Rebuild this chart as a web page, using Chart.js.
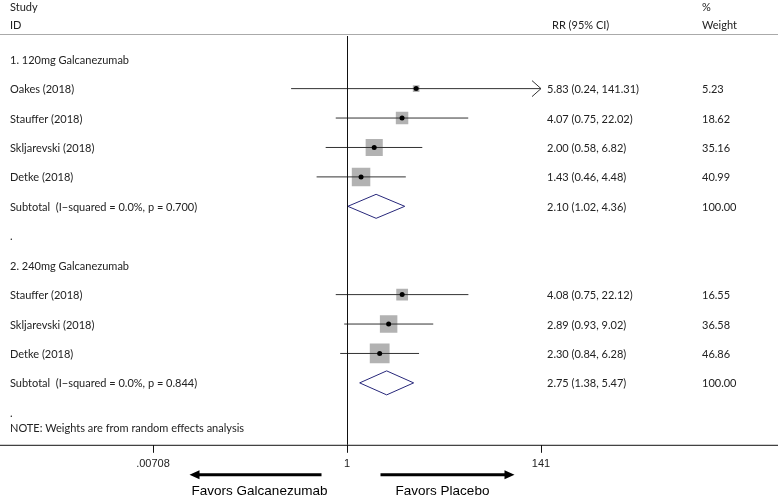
<!DOCTYPE html>
<html lang="en">
<head>
    <meta charset="UTF-8">
    <title>Forest plot</title>
    <script src="https://cdn.jsdelivr.net/npm/chart.js"></script>
    <style>
        body { margin: 0; background: #fff; }
    </style>
</head>
<body>
<canvas id="myChart" width="778" height="501"></canvas>
<script>
    // rows top to bottom
    const rowLabels = [
        '1. 120mg Galcanezumab', 'Oakes (2018)', 'Stauffer (2018)', 'Skljarevski (2018)', 'Detke (2018)',
        'Subtotal  (I\u2212squared = 0.0%, p = 0.700)', '.',
        '2. 240mg Galcanezumab', 'Stauffer (2018)', 'Skljarevski (2018)', 'Detke (2018)',
        'Subtotal  (I\u2212squared = 0.0%, p = 0.844)', '.'
    ];
    const rr      = [null, 5.83, 4.07, 2.00, 1.43, 2.10, null, null, 4.08, 2.89, 2.30, 2.75, null];
    const ciLow   = [null, 0.24, 0.75, 0.58, 0.46, 1.02, null, null, 0.75, 0.93, 0.84, 1.38, null];
    const ciHigh  = [null, 141.31, 22.02, 6.82, 4.48, 4.36, null, null, 22.12, 9.02, 6.28, 5.47, null];
    const weights = [null, 5.23, 18.62, 35.16, 40.99, 100.00, null, null, 16.55, 36.58, 46.86, 100.00, null];
    const isSubtotal = [false, false, false, false, false, true, false, false, false, false, false, true, false];
    const xTicks = [0.00708, 1, 141];
    const xTickLabels = ['.00708', '1', '141'];
    const noteText = 'NOTE: Weights are from random effects analysis';

    const tableFont = '11px Lato';

    let boxes = [], dots = [], ciLines = [];
    rr.forEach((v, i) => {
        if (v === null || isSubtotal[i]) return;
        boxes.push({x: v, y: i});
        dots.push({x: v, y: i});
        ciLines.push({x: ciLow[i], y: i}, {x: ciHigh[i], y: i}, {x: null, y: null});
    });
    const boxRadius = rr.map((v, i) => weights[i]).filter((w, i) => rr[i] !== null && !isSubtotal[i])
        .map(w => 2.89 * Math.sqrt(w) / Math.SQRT2);

    const forestText = {
        id: 'forestText',
        afterDatasetsDraw(chart) {
            const ctx = chart.ctx;
            const xs = chart.scales.x, ys = chart.scales.y;
            const area = chart.chartArea;
            ctx.save();
            // subtotal diamonds
            ctx.strokeStyle = '#27277a';
            ctx.lineWidth = 1;
            rr.forEach((v, i) => {
                if (!isSubtotal[i]) return;
                const y = ys.getPixelForValue(i);
                const l = xs.getPixelForValue(ciLow[i]);
                const m = xs.getPixelForValue(v);
                const r = xs.getPixelForValue(ciHigh[i]);
                ctx.beginPath();
                ctx.moveTo(l, y);
                ctx.lineTo(m, y - 12);
                ctx.lineTo(r, y);
                ctx.lineTo(m, y + 12);
                ctx.closePath();
                ctx.stroke();
            });
            // arrow where CI runs past the axis
            ctx.strokeStyle = '#333';
            rr.forEach((v, i) => {
                if (v === null || ciHigh[i] <= xs.max) return;
                const y = ys.getPixelForValue(i);
                ctx.beginPath();
                ctx.moveTo(area.right - 9, y - 8);
                ctx.lineTo(area.right, y);
                ctx.lineTo(area.right - 9, y + 8);
                ctx.stroke();
            });
            ctx.restore();
        },
        afterDraw(chart) {
            const ctx = chart.ctx;
            const xs = chart.scales.x, ys = chart.scales.y;
            const area = chart.chartArea;
            const w = chart.width;
            ctx.save();
            // header rule
            ctx.strokeStyle = '#aaa';
            ctx.lineWidth = 1;
            ctx.beginPath();
            ctx.moveTo(0, area.top - 0.5);
            ctx.lineTo(w, area.top - 0.5);
            ctx.stroke();
            // axis rule across full width
            ctx.strokeStyle = '#111';
            ctx.beginPath();
            ctx.moveTo(0, area.bottom + 0.5);
            ctx.lineTo(w, area.bottom + 0.5);
            ctx.stroke();
            // null line
            const x1 = Math.round(xs.getPixelForValue(1)) + 0.5;
            ctx.beginPath();
            ctx.moveTo(x1, area.top + 1);
            ctx.lineTo(x1, area.bottom);
            ctx.stroke();

            ctx.fillStyle = '#222';
            ctx.font = tableFont;
            ctx.textBaseline = 'middle';
            ctx.textAlign = 'left';
            ctx.fillText('Study', 10, 7);
            ctx.fillText('ID', 10, 25);
            ctx.fillText('RR (95% CI)', 552, 25);
            ctx.fillText('%', 702, 7);
            ctx.fillText('Weight', 702, 25);

            rowLabels.forEach((lab, i) => {
                const y = ys.getPixelForValue(i) + 1;
                ctx.fillText(lab, 10, y);
                if (rr[i] !== null) {
                    ctx.fillText(rr[i].toFixed(2) + ' (' + ciLow[i].toFixed(2) + ', ' + ciHigh[i].toFixed(2) + ')', 547, y);
                    ctx.fillText(weights[i].toFixed(2), 702, y);
                }
            });
            ctx.fillText(noteText, 10, ys.getPixelForValue(rowLabels.length - 1) + 16);

            // favours arrows
            const ay = area.bottom + 30;
            ctx.strokeStyle = '#000';
            ctx.fillStyle = '#000';
            ctx.lineWidth = 3;
            ctx.beginPath();
            ctx.moveTo(x1 - 26, ay);
            ctx.lineTo(x1 - 150, ay);
            ctx.moveTo(x1 + 33, ay);
            ctx.lineTo(x1 + 159, ay);
            ctx.stroke();
            ctx.beginPath();
            ctx.moveTo(x1 - 158, ay);
            ctx.lineTo(x1 - 148, ay - 4.5);
            ctx.lineTo(x1 - 148, ay + 4.5);
            ctx.closePath();
            ctx.moveTo(x1 + 167, ay);
            ctx.lineTo(x1 + 157, ay - 4.5);
            ctx.lineTo(x1 + 157, ay + 4.5);
            ctx.closePath();
            ctx.fill();
            ctx.font = '13.5px "Liberation Sans"';
            ctx.textAlign = 'center';
            ctx.fillText('Favors Galcanezumab', x1 - 88, area.bottom + 46);
            ctx.fillText('Favors Placebo', x1 + 95, area.bottom + 46);
            ctx.restore();
        }
    };

    const setting = {
        type: 'scatter',
        data: {
            datasets: [{
                label: 'weight box',
                data: boxes,
                pointStyle: 'rect',
                pointRadius: boxRadius,
                backgroundColor: '#b2b2b2',
                borderWidth: 0,
                order: 3
            }, {
                label: 'ci',
                data: ciLines,
                showLine: true,
                spanGaps: false,
                pointRadius: 0,
                borderColor: '#333',
                borderWidth: 1,
                order: 2
            }, {
                label: 'rr',
                data: dots,
                pointStyle: 'circle',
                pointRadius: 2.5,
                backgroundColor: '#000',
                borderWidth: 0,
                order: 1
            }]
        },
        options: {
            responsive: false,
            animation: false,
            layout: {padding: {left: 153, right: 237, top: 35, bottom: 25}},
            plugins: {legend: {display: false}, tooltip: {enabled: false}},
            scales: {
                x: {
                    type: 'logarithmic',
                    min: xTicks[0],
                    max: xTicks[xTicks.length - 1],
                    afterBuildTicks: axis => { axis.ticks = xTicks.map(v => ({value: v})); },
                    border: {display: false},
                    grid: {drawOnChartArea: false, drawTicks: true, tickLength: 8, color: '#111'},
                    ticks: {
                        autoSkip: false,
                        maxRotation: 0,
                        padding: 5,
                        color: '#222',
                        font: {family: 'Liberation Sans', size: 11},
                        callback: (val, i) => xTickLabels[i]
                    }
                },
                y: {
                    type: 'linear',
                    reverse: true,
                    min: -0.822,
                    max: 13.104,
                    display: false
                }
            }
        },
        plugins: [forestText]
    };

    new Chart(document.getElementById('myChart'), setting);
</script>
</body>
</html>
